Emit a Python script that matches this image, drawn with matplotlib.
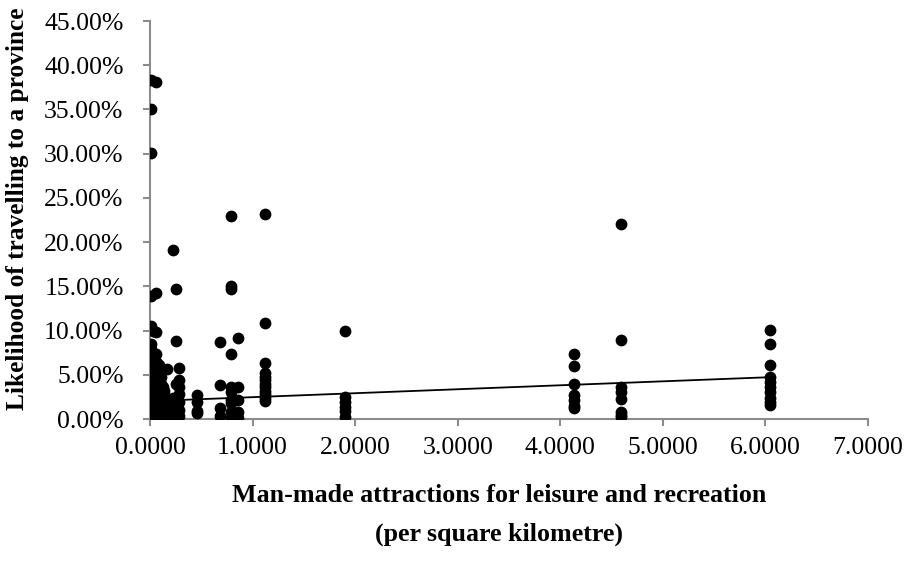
import matplotlib
matplotlib.use("Agg")
import matplotlib.pyplot as plt
from matplotlib.ticker import FuncFormatter, MultipleLocator

plt.rcParams['font.family'] = ['Liberation Serif', 'DejaVu Serif']

# Data: attraction density (per km^2) -> likelihood of travelling (%)
x_00 = 0.005
y_00 = [38.3, 35.0, 30.1, 13.95, 10.55, 8.45, 7.9, 7.4, 7.0, 6.6, 6.2, 5.8, 5.4, 5.0,
        4.6, 4.2, 3.8, 3.4, 3.0, 2.6, 2.2, 1.8, 1.4, 1.0, 0.6, 0.2]
x_015 = 0.015
y_015 = [7.6, 6.8, 6.0, 5.2, 4.4, 3.6, 2.8, 2.0, 1.2, 0.4]
x_03 = 0.03
y_03 = [9.9, 7.2, 6.4, 5.6, 4.9, 4.3, 3.7, 3.1, 2.5, 1.9, 1.3, 0.7, 0.3]
x_045 = 0.045
y_045 = [6.7, 5.9, 5.1, 4.2, 3.4, 2.6, 1.8, 1.0, 0.2]
x_055 = 0.055
y_055 = [38.1, 14.25, 9.8, 7.3, 6.0, 5.2, 4.5, 3.9, 3.3, 2.7, 2.1, 1.5, 0.9, 0.4]
x_07 = 0.07
y_07 = [6.3, 5.5, 4.7, 3.9, 3.1, 2.3, 1.5, 0.7, 0.1]
x_085 = 0.085
y_085 = [6.1, 5.0, 4.4, 3.4, 2.8, 2.2, 1.6, 1.0, 0.5, 0.15]
x_095 = 0.095
y_095 = [4.9, 4.1, 3.3, 2.5, 1.7, 0.9, 0.3]
x_11 = 0.11
y_11 = [4.8, 4.0, 3.0, 2.4, 1.7, 1.1, 0.6, 0.2]
x_125 = 0.125
y_125 = [3.6, 2.8, 2.0, 1.3, 0.5]
x_14 = 0.14
y_14 = [3.2, 2.3, 1.6, 0.9, 0.3]
x_155 = 0.155
y_155 = [2.1, 1.4, 0.7, 0.1]
x_17 = 0.17
y_17 = [5.65, 2.0, 1.2, 0.5]
x_185 = 0.185
y_185 = [2.2, 1.5, 0.8, 0.2]
x_20 = 0.20
y_20 = [1.8, 1.0, 0.3]
x_22 = 0.22
y_22 = [19.15, 2.4, 1.5, 0.6]
x_235 = 0.235
y_235 = [2.0, 1.2, 0.3]
x_25 = 0.25
y_25 = [14.7, 8.8, 3.95, 2.2, 1.2, 0.4]
x_265 = 0.265
y_265 = [2.5, 1.6, 0.7, 0.1]
x_28 = 0.285
y_28 = [5.8, 4.4, 3.6, 2.8, 1.9, 1.0, 0.3]
x_46 = 0.46
y_46 = [2.7, 1.95, 0.9, 0.7]
x_69 = 0.686
y_69 = [8.65, 3.85, 1.3, 0.3]
x_79 = 0.79
y_79 = [22.9, 15.0, 14.7, 7.4, 3.6, 3.1, 2.2, 1.8, 0.8, 0.1]
x_86 = 0.856
y_86 = [9.2, 3.6, 2.2, 0.8, 0.15]
x_112 = 1.125
y_112 = [23.2, 10.9, 6.3, 5.2, 4.8, 4.4, 4.0, 3.6, 3.2, 2.8, 2.4, 2.0]
x_190 = 1.90
y_190 = [9.9, 2.5, 1.9, 1.4, 0.9, 0.2]
x_413 = 4.13
y_413 = [7.35, 6.0, 3.95, 2.7, 2.15, 1.5, 1.2]
x_459 = 4.59
y_459 = [22.0, 8.95, 3.65, 3.1, 2.25, 0.8, 0.45, 0.25]
x_604 = 6.04
y_604 = [10.1, 8.5, 6.05, 4.7, 4.2, 3.65, 3.1, 2.35, 1.95, 1.6]

groups = [(x_00, y_00), (x_015, y_015), (x_03, y_03), (x_045, y_045), (x_055, y_055),
          (x_07, y_07), (x_085, y_085), (x_095, y_095), (x_11, y_11), (x_125, y_125),
          (x_14, y_14), (x_155, y_155), (x_17, y_17), (x_185, y_185), (x_20, y_20),
          (x_22, y_22), (x_235, y_235), (x_25, y_25), (x_265, y_265), (x_28, y_28),
          (x_46, y_46), (x_69, y_69), (x_79, y_79), (x_86, y_86),
          (x_112, y_112), (x_190, y_190), (x_413, y_413), (x_459, y_459), (x_604, y_604)]

# Linear trendline (percent)
trend_intercept = 2.02
trend_slope = 0.448

xs = []
ys = []
for gx, gy in groups:
    for v in gy:
        xs.append(gx)
        ys.append(v / 100.0)

fig = plt.figure(figsize=(9.06, 5.64), dpi=100)
ax = fig.add_axes([150/906, 1 - 419/564, 718/906, 398/564])

ax.scatter(xs, ys, s=72, color='black', zorder=3, linewidths=0)
x_max = max(xs)
ax.plot([0.0, x_max],
        [trend_intercept / 100, (trend_intercept + trend_slope * x_max) / 100],
        color='black', lw=1.3, zorder=4)

ax.set_xlim(0, 7)
ax.set_ylim(0, 0.45)
ax.xaxis.set_major_locator(MultipleLocator(1))
ax.yaxis.set_major_locator(MultipleLocator(0.05))
ax.xaxis.set_major_formatter(FuncFormatter(lambda v, p: f"{v:.4f}"))
ax.yaxis.set_major_formatter(FuncFormatter(lambda v, p: f"{v*100:.2f}%"))

for s in ['top', 'right']:
    ax.spines[s].set_visible(False)
for s in ['left', 'bottom']:
    ax.spines[s].set_color('#8c8c8c')
    ax.spines[s].set_linewidth(1.5)
ax.tick_params(axis='both', direction='out', length=5, width=1.5, color='#8c8c8c',
               labelsize=18.5, labelcolor='black')
ax.tick_params(axis='y', pad=14)
ax.tick_params(axis='x', pad=8)

fig.text(18/906, 1 - 209/564, "Likelihood of travelling to a province", rotation=90,
         ha='center', va='center', fontsize=18.3, fontweight='bold')
fig.text(499/906, 1 - 515/564,
         "Man-made attractions for leisure and recreation\n(per square kilometre)",
         ha='center', va='center', fontsize=18.7, fontweight='bold', linespacing=1.85)

fig.savefig("out.png", dpi=100)
